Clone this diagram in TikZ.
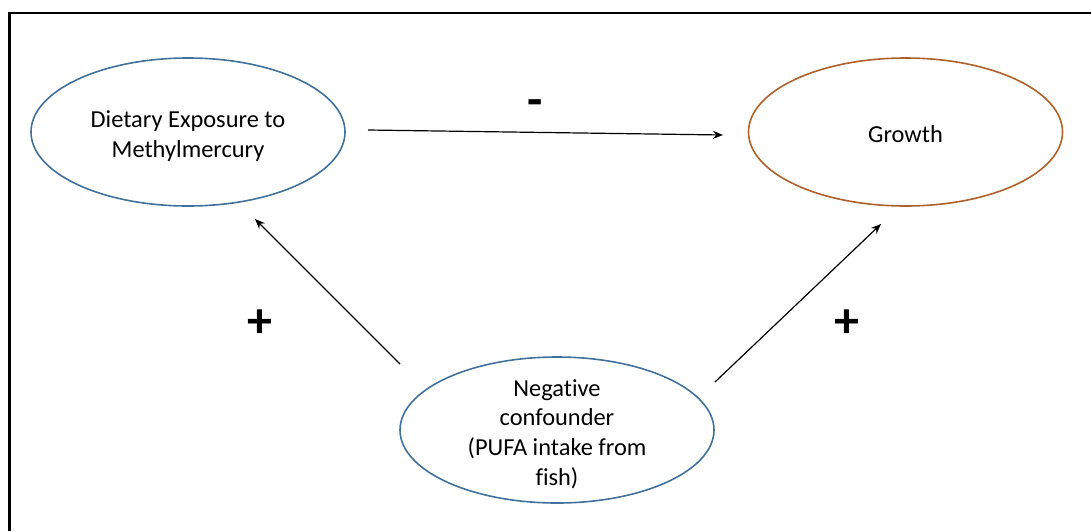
\documentclass[tikz,border=0pt]{standalone}
\usepackage{fontspec}
\setmainfont[Ligatures=NoCommon]{Carlito}
\usetikzlibrary{shapes.geometric,arrows.meta}
\definecolor{ellblue}{HTML}{41719C}
\definecolor{ellorange}{HTML}{B0602A}
\tikzset{
  oval/.style={ellipse, draw=#1, line width=1.6pt, minimum width=314pt, minimum height=148pt, inner sep=0pt},
  ovaltext/.style={inner sep=0pt, align=center, font=\fontsize{24.4}{29.8}\selectfont},
  link/.style={line width=1.2pt, -{Stealth[length=10pt,width=8pt]}},
  sign/.style={inner sep=0pt, font=\fontsize{50}{50}\selectfont\bfseries}
}
\begin{document}
\begin{tikzpicture}[x=1pt,y=-1pt]
\useasboundingbox (0,0) rectangle (1091,531);
\draw[line width=2.4pt] (9.5,531) -- (9.5,13) -- (1091,13);
\node[oval=ellblue] (exp) at (188,132) {};
\node[oval=ellorange] (gro) at (905.5,132) {};
\node[oval=ellblue, minimum height=146pt] (conf) at (557,430) {};
\node[ovaltext] (exptext) at (188,136) {Dietary Exposure to\\Methylmercury};
\node[ovaltext] (grotext) at (905.5,134) {Growth};
\node[ovaltext] (conftext) at (557,434) {Negative\\confounder\\(PUFA intake from\\fish)};
\coordinate (a1s) at (368,130);
\coordinate (a1e) at (723,135);
\coordinate (a2s) at (400,364);
\coordinate (a2e) at (255,219);
\coordinate (a3s) at (715,382);
\coordinate (a3e) at (881,224);
\draw[link] (a1s) -- (a1e);
\draw[link] (a2s) -- (a2e);
\draw[link] (a3s) -- (a3e);
\node[sign] (minus) at (535,108) {-};
\node[sign] (plus1) at (260,324) {+};
\node[sign] (plus2) at (847,324) {+};
\end{tikzpicture}
\end{document}
